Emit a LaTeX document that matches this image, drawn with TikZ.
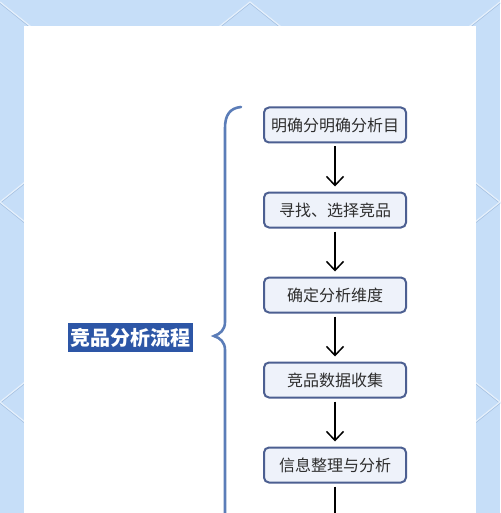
\documentclass[tikz,border=0pt]{standalone}
\usepackage{fontspec}
\usetikzlibrary{arrows.meta}
\newfontfamily\cjk{Noto Sans CJK SC}
\definecolor{bgblue}{HTML}{C6DEF8}
\definecolor{bgline}{HTML}{E4EFFB}
\definecolor{bgshadow}{HTML}{A9C3E2}
\definecolor{boxborder}{HTML}{4C5F91}
\definecolor{boxfill}{HTML}{EEF2FA}
\definecolor{bracecol}{HTML}{5B7DB8}
\definecolor{titlefill}{HTML}{2D56A6}
\definecolor{txt}{HTML}{2E2E2E}
\tikzset{
  stepbox/.style={draw=boxborder, fill=boxfill, line width=2pt, rounded corners=5pt,
    minimum width=142pt, minimum height=35pt, inner sep=0pt,
    font=\cjk\fontsize{16pt}{18pt}\selectfont, text=txt},
  flowarrow/.style={line width=1.5pt, black,
    -{Straight Barb[length=9pt,width=17pt,line width=1.5pt]},
    shorten <=3pt, shorten >=5pt},
  bracestyle/.style={draw=bracecol, line width=2.6pt, line cap=round},
  titlebox/.style={fill=titlefill, text=white, inner sep=0pt,
    minimum width=125pt, minimum height=29pt,
    font=\cjk\bfseries\fontsize{20pt}{22pt}\selectfont},
  bglineshadow/.style={draw=bgshadow, line width=1.2pt},
  bgl/.style={draw=bgline, line width=1.2pt}
}
\begin{document}
\begin{tikzpicture}[x=1pt,y=-1pt]
\useasboundingbox (0,0) rectangle (500,513);
% background
\fill[bgblue] (0,0) rectangle (500,513);
\begin{scope}[yshift=-1pt]
\draw[bglineshadow] (0,202)--(250,2)--(500,202);
\draw[bglineshadow] (0,2)--(250,202)--(500,2);
\draw[bglineshadow] (0,202)--(250,402)--(500,202);
\draw[bglineshadow] (0,402)--(250,202)--(500,402);
\draw[bglineshadow] (0,402)--(250,602)--(500,402);
\end{scope}
\draw[bgl] (0,202)--(250,2)--(500,202);
\draw[bgl] (0,2)--(250,202)--(500,2);
\draw[bgl] (0,202)--(250,402)--(500,202);
\draw[bgl] (0,402)--(250,202)--(500,402);
\draw[bgl] (0,402)--(250,602)--(500,402);
% card
\fill[white] (24,26) rectangle (476,520);
% nodes
\node[stepbox] (b1) at (335,125) {明确分明确分析目};
\node[stepbox] (b2) at (335,210) {寻找、选择竞品};
\node[stepbox] (b3) at (335,295) {确定分析维度};
\node[stepbox] (b4) at (335,380) {竞品数据收集};
\node[stepbox] (b5) at (335,465) {信息整理与分析};
\coordinate (bend) at (335,540);
\draw[flowarrow] (b1) -- (b2);
\draw[flowarrow] (b2) -- (b3);
\draw[flowarrow] (b3) -- (b4);
\draw[flowarrow] (b4) -- (b5);
\draw[line width=1.5pt, black, shorten <=3pt] (b5) -- (bend);
% brace
\draw[bracestyle] (241,107) .. controls (230,108) and (225,115) .. (225,128)
  -- (225,322) .. controls (225,330) and (220,334) .. (214,336)
  .. controls (220,338) and (225,342) .. (225,350) -- (225,540);
% title
\node[titlebox] (title) at (130.5,337.5) {竞品分析流程};
\end{tikzpicture}
\end{document}
